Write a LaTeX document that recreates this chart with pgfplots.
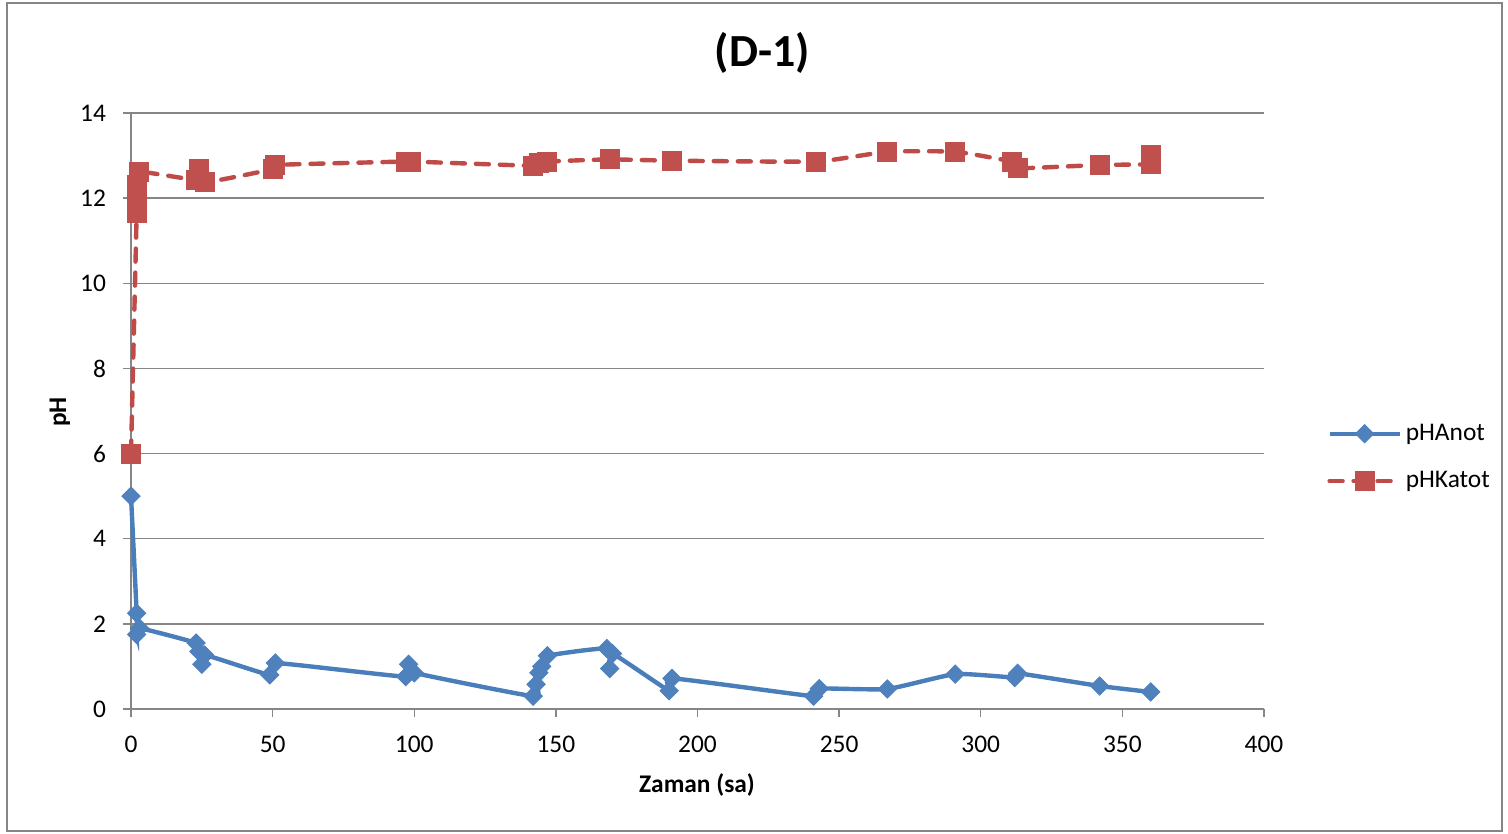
\documentclass[border=0pt]{standalone}
\usepackage{pgfplots}
\pgfplotsset{compat=1.18}
\usepackage{fontspec}
\setmainfont{Carlito}
\definecolor{anot}{HTML}{4A7EBB}
\definecolor{anotm}{HTML}{4F81BD}
\definecolor{katot}{HTML}{BE4B48}
\definecolor{katotm}{HTML}{C0504D}
\definecolor{gridc}{HTML}{868686}
\newcommand{\tickfont}{\fontsize{12.7pt}{15pt}\selectfont}
\begin{document}
\begin{tikzpicture}
\begin{scope}[x=0.5pt,y=-0.5pt,shift={(-65.5pt,354.5pt)}]
\useasboundingbox (0,0) rectangle (1508,834);
\end{scope}
\begin{axis}[
  width=566.5pt, height=298pt, scale only axis,
  xmin=0, xmax=400, ymin=0, ymax=14,
  xtick={0,50,...,400}, ytick={0,2,...,14},
  axis x line*=bottom, axis y line*=left,
  axis line style={-, draw=gridc, line width=0.65pt},
  tick style={draw=gridc, line width=0.65pt},
  tick align=outside, major tick length=4pt,
  ymajorgrids, grid style={draw=gridc, line width=0.65pt},
  ticklabel style={font=\tickfont},
  xticklabel style={yshift=-6pt},
  yticklabel style={xshift=-5pt},
  /pgf/number format/assume math mode=true,
  clip=false,
  legend style={draw=none, fill=none, at={(1.0556,0.4222)}, anchor=west, font=\tickfont, row sep=10pt, inner sep=0pt},
  legend cell align=left,
  legend image code/.code={\draw[mark repeat=2,mark phase=2,#1] plot coordinates {(0pt,0pt) (17.5pt,0pt) (35pt,0pt)};},
]
\addplot[anot, line width=2.2pt, smooth, tension=0.3, mark=square*, mark size=3.2pt, mark options={solid, rotate=45, fill=anotm, draw=anotm, line width=0.5pt}] coordinates {
(0,5.0) (2,2.25) (2,1.75) (3,1.9) (23,1.55) (24,1.35) (25,1.05) (26,1.27)
(49,0.8) (51,1.08) (97,0.76) (98,1.05) (100,0.85)
(142,0.3) (143,0.58) (144,0.85) (145,1.0) (147,1.25)
(168,1.42) (169,0.95) (170,1.3) (190,0.43) (191,0.72)
(241,0.3) (243,0.48) (267,0.47) (291,0.82) (312,0.74) (313,0.84)
(342,0.54) (360,0.4)
};
\addlegendentry{pHAnot}
\addplot[katot, line width=2.2pt, line cap=round, dash pattern=on 6.5pt off 5.5pt, smooth, tension=0.25, mark=square*, mark size=4.75pt, mark options={solid, fill=katotm, draw=katotm, line width=0.5pt}] coordinates {
(0,6.0) (2,11.65) (2,11.95) (2,12.3) (3,12.62)
(23,12.43) (24,12.68) (26,12.37) (50,12.68) (51,12.78)
(97,12.86) (99,12.86) (142,12.76) (144,12.82) (147,12.86)
(169,12.91) (191,12.88) (242,12.86) (267,13.09) (291,13.09)
(311,12.86) (313,12.7) (342,12.78) (360,12.8) (360,13.02)
};
\addlegendentry{pHKatot}
\end{axis}
\begin{scope}[x=0.5pt,y=-0.5pt,shift={(-65.5pt,354.5pt)}]
\draw[gridc, line width=1pt] (7,3) rectangle (1502,831);
\node[font=\fontsize{23pt}{27pt}\selectfont\bfseries, anchor=base] at (762.5,67) {(D-1)};
\node[font=\tickfont\bfseries, anchor=base] at (697,792.7) {Zaman (sa)};
\node[font=\tickfont\bfseries, rotate=90, anchor=center] at (60,412) {pH};
\end{scope}
\end{tikzpicture}
\end{document}
